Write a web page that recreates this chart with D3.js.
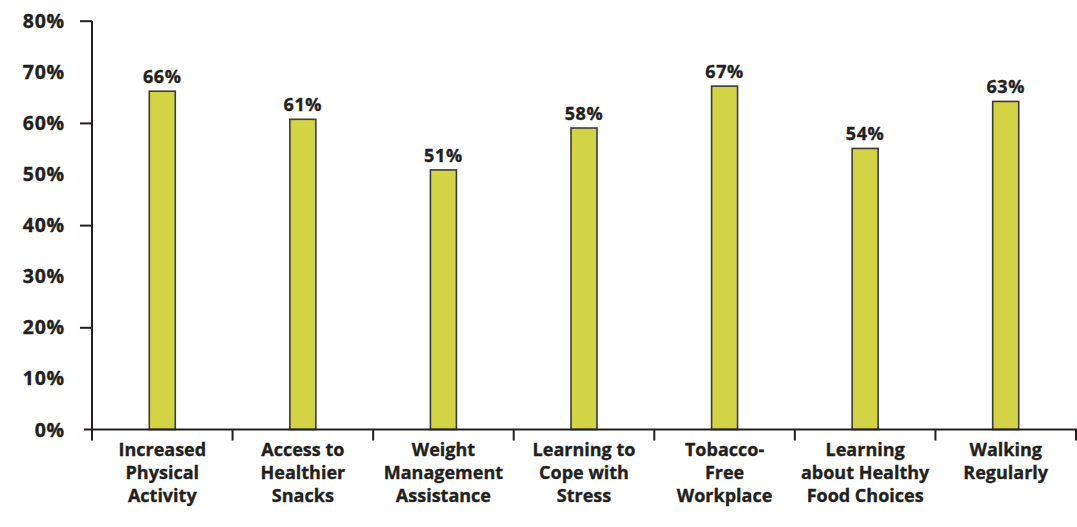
<!DOCTYPE html>
<html>
<head>
<meta charset="utf-8">
<script src="https://cdn.jsdelivr.net/npm/d3@7"></script>
<style>
  html, body { margin: 0; padding: 0; background: #ffffff; }
  svg { display: block; }
  text { font-family: "Open Sans", "Noto Sans", sans-serif; font-weight: 700; fill: #231f20; stroke: #231f20; stroke-width: 0.35px; }
</style>
</head>
<body>
<svg id="chart" width="1077" height="527"></svg>
<script>
const categories = [
  ["Increased", "Physical", "Activity"],
  ["Access to", "Healthier", "Snacks"],
  ["Weight", "Management", "Assistance"],
  ["Learning to", "Cope with", "Stress"],
  ["Tobacco-", "Free", "Workplace"],
  ["Learning", "about Healthy", "Food Choices"],
  ["Walking", "Regularly"]
];
const values = [66.2, 60.7, 50.8, 59.0, 67.2, 55.0, 64.2];
const valueLabels = ["66%", "61%", "51%", "58%", "67%", "54%", "63%"];
const yTickValues = [0, 10, 20, 30, 40, 50, 60, 70, 80];
const yTickMarks = [20, 40, 60, 80];

const svg = d3.select("#chart");
const x0 = 92, x1 = 1076, yTop = 20.7, yBase = 429.5;

const x = d3.scaleBand()
  .domain(d3.range(categories.length))
  .range([x0, x1])
  .paddingInner(0.815)
  .paddingOuter(0.4075);

const y = d3.scaleLinear().domain([0, 80]).range([yBase, yTop]);

const ink = "#231f20";

// Y axis line (extends below baseline)
svg.append("line")
  .attr("x1", x0).attr("x2", x0)
  .attr("y1", y(80)).attr("y2", yBase + 11)
  .attr("stroke", ink).attr("stroke-width", 2);

// Y tick marks
svg.append("g")
  .attr("transform", `translate(${x0},0)`)
  .call(d3.axisLeft(y).tickValues(yTickMarks).tickSize(12).tickFormat(""))
  .call(g => g.select(".domain").remove())
  .call(g => g.selectAll("line").attr("stroke", ink).attr("stroke-width", 2));

// Y tick labels
svg.append("g")
  .selectAll("text")
  .data(yTickValues)
  .join("text")
  .attr("x", 65)
  .attr("y", d => y(d))
  .attr("dy", "0.36em")
  .attr("text-anchor", "end")
  .style("font-size", "19.5px")
  .style("letter-spacing", "0.8px")
  .text(d => d + "%");

// Bars
svg.append("g")
  .selectAll("rect")
  .data(values)
  .join("rect")
  .attr("x", (d, i) => x(i))
  .attr("y", d => y(d))
  .attr("width", x.bandwidth())
  .attr("height", d => yBase - y(d))
  .attr("fill", "#d3d346")
  .attr("stroke", "#3b3b3b")
  .attr("stroke-width", 1.6);

// X axis baseline
svg.append("line")
  .attr("x1", 84).attr("x2", 1077)
  .attr("y1", yBase).attr("y2", yBase)
  .attr("stroke", ink).attr("stroke-width", 2);

// Category boundary ticks
const bounds = d3.range(1, categories.length + 1).map(i => x0 + i * x.step());
svg.append("g")
  .selectAll("line")
  .data(bounds)
  .join("line")
  .attr("x1", d => d).attr("x2", d => d)
  .attr("y1", yBase).attr("y2", yBase + 11)
  .attr("stroke", ink).attr("stroke-width", 2);

// Value labels
svg.append("g")
  .selectAll("text")
  .data(values)
  .join("text")
  .attr("x", (d, i) => x(i) + x.bandwidth() / 2)
  .attr("y", d => y(d) - 8)
  .attr("text-anchor", "middle")
  .style("font-size", "18px")
  .style("letter-spacing", "0.6px")
  .text((d, i) => valueLabels[i]);

// Category labels
const catG = svg.append("g")
  .selectAll("text")
  .data(categories)
  .join("text")
  .attr("x", (d, i) => x(i) + x.bandwidth() / 2)
  .attr("y", 456)
  .attr("text-anchor", "middle")
  .style("font-size", "18px");
catG.selectAll("tspan")
  .data(d => d)
  .join("tspan")
  .attr("x", function() { return d3.select(this.parentNode).attr("x"); })
  .attr("dy", (d, j) => j === 0 ? 0 : 23)
  .text(d => d);
</script>
</body>
</html>
